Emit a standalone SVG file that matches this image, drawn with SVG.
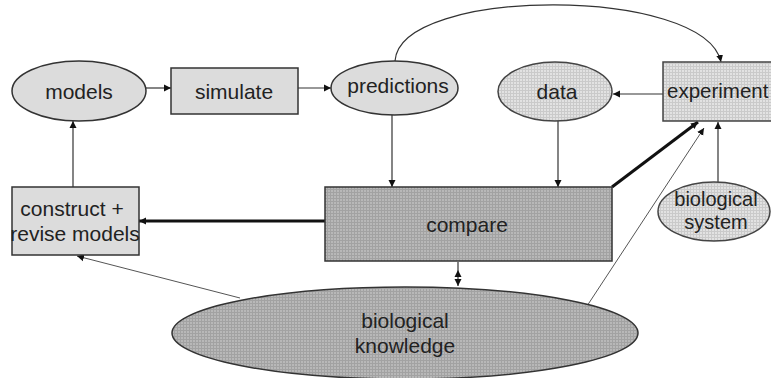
<svg xmlns="http://www.w3.org/2000/svg" width="771" height="378" viewBox="0 0 771 378">
<defs>
<pattern id="gridLight" width="3" height="3" patternUnits="userSpaceOnUse">
<rect width="3" height="3" fill="#e2e2e2"/>
<path d="M0,0.5H3M0.5,0V3" stroke="#cacaca" stroke-width="1"/>
</pattern>
<pattern id="gridDark" width="3" height="3" patternUnits="userSpaceOnUse">
<rect width="3" height="3" fill="#b8b8b8"/>
<path d="M0,0.5H3M0.5,0V3" stroke="#a2a2a2" stroke-width="1"/>
</pattern>
<marker id="arr" markerWidth="8" markerHeight="8" refX="7" refY="4" orient="auto-start-reverse" markerUnits="userSpaceOnUse">
<path d="M0,0.5L7,4L0,7.5Z" fill="#111"/>
</marker>
</defs>
<style>
.plain{fill:#dcdcdc;stroke:#333;stroke-width:1.5}
.light{fill:url(#gridLight);stroke:#444;stroke-width:1.5}
.dark{fill:url(#gridDark);stroke:#333;stroke-width:1.5}
text{font-family:"Liberation Sans",Arial,sans-serif;font-size:21px;fill:#222;text-anchor:middle}
.c{fill:none;stroke:#333;stroke-width:1.2;marker-end:url(#arr)}
.thin{fill:none;stroke:#555;stroke-width:1;marker-end:url(#arr)}
.thick{fill:none;stroke:#111;stroke-width:3;marker-end:url(#arr)}
</style>
<g id="connectors">
<path class="c" d="M146,88H171"/>
<path class="c" d="M298,88H331"/>
<path class="c" d="M395,61C400,-14 705,-14 721,62"/>
<path class="c" d="M663,94H613"/>
<path class="c" d="M392,115V187"/>
<path class="c" d="M558,121V187"/>
<path class="thick" d="M612,187L698,122"/>
<path class="thin" d="M587,306L704,128"/>
<path class="c" d="M718,182V122"/>
<path class="c" d="M73,187V121"/>
<path class="thick" d="M325,221H139"/>
<path class="thin" d="M240,298L77,256"/>
<path class="c" d="M458,270V286" style="marker-start:url(#arr)"/>
<path d="M458,262V270" stroke="#333" stroke-width="1.2"/>
</g>
<g id="models"><ellipse class="plain" cx="79" cy="91" rx="67" ry="30"/><text x="79" y="99">models</text></g>
<g id="simulate"><rect class="plain" x="171" y="68" width="127" height="46"/><text x="234" y="99">simulate</text></g>
<g id="predictions"><ellipse class="plain" cx="394.5" cy="88" rx="63.5" ry="27"/><text x="398" y="93">predictions</text></g>
<g id="data"><ellipse class="light" cx="555" cy="91.5" rx="57" ry="29.5"/><text x="557" y="99">data</text></g>
<g id="experiment"><rect class="light" x="663" y="62" width="120" height="59"/><text x="667" y="98" style="text-anchor:start;font-size:20.5px">experiment</text></g>
<g id="compare"><rect class="dark" x="325" y="187" width="287" height="74"/><text x="467" y="232">compare</text></g>
<g id="biological-system"><ellipse class="light" cx="714" cy="211.5" rx="56" ry="29.5"/><text x="716" y="206" style="font-size:20px">biological</text><text x="716" y="229" style="font-size:20px">system</text></g>
<g id="construct"><rect class="plain" x="12" y="187" width="127" height="68"/><text x="72" y="216">construct +</text><text x="75" y="241">revise models</text></g>
<g id="knowledge"><ellipse class="dark" cx="405" cy="333" rx="233" ry="46"/><text x="405" y="328">biological</text><text x="405" y="353">knowledge</text></g>
</svg>
